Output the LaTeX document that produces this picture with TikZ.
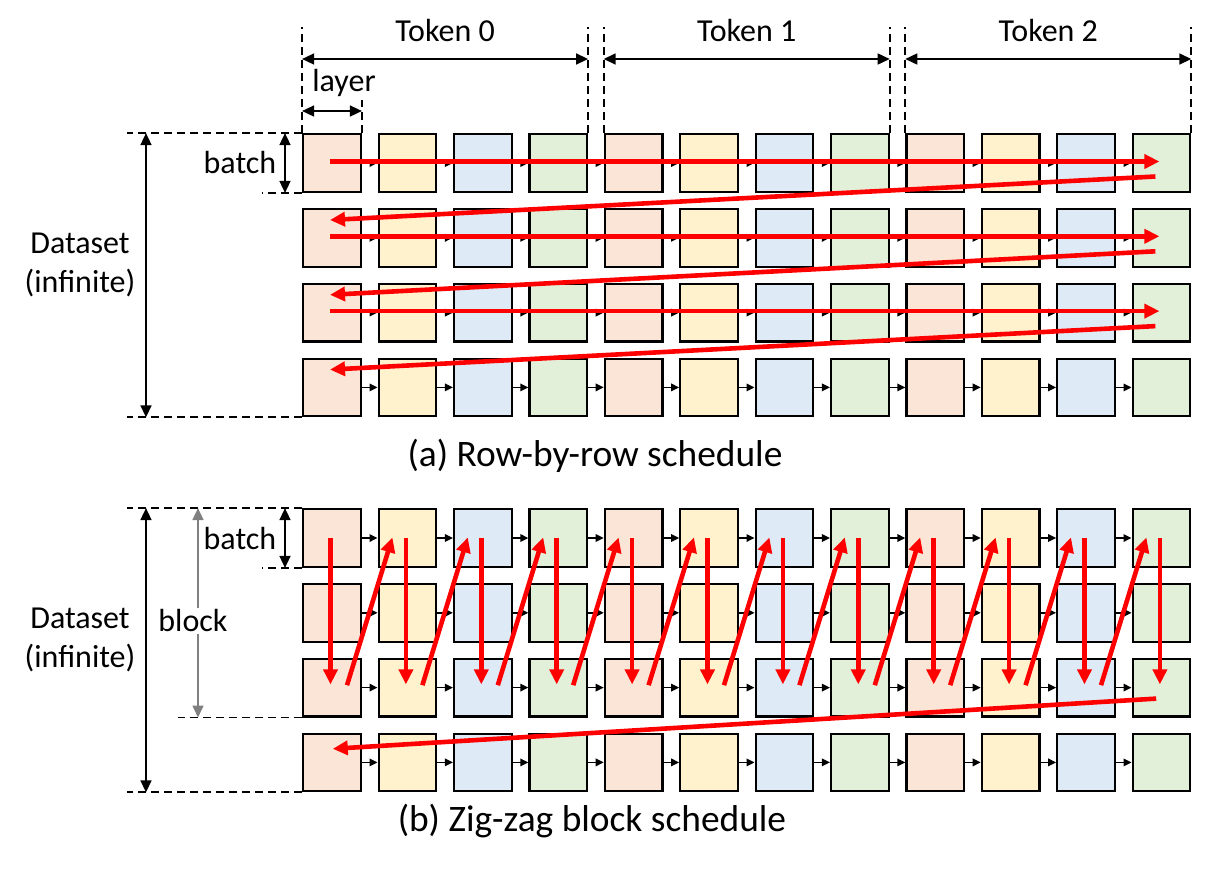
\documentclass[tikz,border=0pt]{standalone}
\usepackage{fontspec}
\setmainfont{Carlito}
\usetikzlibrary{arrows.meta}
\definecolor{lpink}{HTML}{FBE5D6}
\definecolor{lyellow}{HTML}{FFF2CC}
\definecolor{lblue}{HTML}{DEEBF7}
\definecolor{lgreen}{HTML}{E2F0D9}

\begin{document}
\begin{tikzpicture}[x=0.5pt,y=-0.5pt]
        \tikzset{
            cell/.style={draw=black,line width=1.1pt,minimum size=28.8pt,inner sep=0pt},
            flow/.style={-{Triangle[length=4pt,width=3.8pt]},line width=0.7pt},
            sched/.style={-{Triangle[length=7.5pt,width=7pt]},draw=red,line width=2.3pt},
            dim/.style={{Triangle[length=6pt,width=5.5pt]}-{Triangle[length=6pt,width=5.5pt]},line width=0.8pt},
            guide/.style={dash pattern=on 4pt off 2.5pt,line width=0.9pt},
            lbl/.style={font=\fontsize{16}{19.2}\selectfont,inner sep=0pt},
            caption/.style={font=\fontsize{18.7}{22.4}\selectfont,inner sep=0pt,anchor=base},
        }
        \useasboundingbox (0,0) rectangle (1207,869);

        \foreach \g/\yy in {a/163,b/538}
          \foreach \row in {1,...,4}
            \foreach \tok in {0,1,2}
              \foreach \lay/\fc in {1/lpink,2/lyellow,3/lblue,4/lgreen}{
                \pgfmathtruncatemacro\col{4*\tok+\lay}
                \node[cell,fill=\fc] (\g-\row-\col) at ({332+75.4*(\col-1)},{\yy+74.8*(\row-1)}) {};
              }
        \foreach \g in {a,b}
          \foreach \row in {1,...,4}
            \foreach \col in {1,...,11}{
              \pgfmathtruncatemacro\nxt{\col+1}
              \draw[flow] (\g-\row-\col.east) -- (\g-\row-\nxt.west);
            }

        % (a) row by row
        \foreach \row [evaluate=\row as \nx using int(\row+1)] in {1,2,3}{
          \draw[sched] ([shift={(-1pt,0.75pt)}]a-\row-1.center) -- ([shift={(-1pt,0.75pt)}]a-\row-12.center);
          \draw[sched] ([shift={(-3pt,-6.75pt)}]a-\row-12.center) -- ([shift={(-1pt,8.9pt)}]a-\nx-1.center);
        }

        % (b) zig-zag
        \foreach \col in {1,...,12}
          \draw[sched] ([xshift=-0.75pt]b-1-\col.center) -- ([shift={(-0.75pt,1.6pt)}]b-3-\col.center);
        \foreach \col [evaluate=\col as \nx using int(\col+1)] in {1,...,11}
          \draw[sched] ([shift={(7.5pt,1.2pt)}]b-3-\col.center) -- ([shift={(-7.5pt,0.3pt)}]b-1-\nx.center);
        \draw[sched] ([shift={(-2.6pt,-5.5pt)}]b-3-12.center) -- ([shift={(0.4pt,6.8pt)}]b-4-1.center);

        \coordinate (tokline) at (0,59);
        \coordinate (layline) at (0,111);
        \coordinate (batline) at (285,0);
        \coordinate (datline) at (146,0);
        \coordinate (blkline) at (198,0);

        \foreach \s/\e/\txt in {1/4/Token 0,5/8/Token 1,9/12/Token 2}{
          \draw[guide] (a-1-\s.north west) -- ++(0,-106);
          \draw[guide] (a-1-\e.north east) -- ++(0,-106);
          \draw[dim] (a-1-\s.north west |- tokline) -- node[lbl,above=8pt] {\txt} (a-1-\e.north east |- tokline);
        }
        \draw[guide] (a-1-1.north east) -- ++(0,-33);
        \draw[dim] (a-1-1.north west |- layline) -- node[lbl,above=6.8pt,xshift=6pt] {layer} (a-1-1.north east |- layline);

        \draw[guide] (a-1-1.north west) -- ++(-175,0);
        \draw[guide] (a-1-1.south west) -- ++(-40,0);
        \draw[guide] (a-4-1.south west) -- ++(-175,0);
        \draw[dim] (a-1-1.north west -| batline) -- node[lbl,left=4pt] {batch} (a-1-1.south west -| batline);
        \draw[dim] (a-1-1.north west -| datline) -- (a-4-1.south west -| datline);
        \node[lbl,align=center] (dsa) at (80,265) {Dataset\\(infinite)};
        \node[caption] (capa) at (595,466.5) {(a) Row-by-row schedule};

        \draw[guide] (b-1-1.north west) -- ++(-175,0);
        \draw[guide] (b-1-1.south west) -- ++(-40,0);
        \draw[guide] (b-3-1.south west) -- ++(-124,0);
        \draw[guide] (b-4-1.south west) -- ++(-175,0);
        \draw[dim] (b-1-1.north west -| batline) -- node[lbl,left=4pt] {batch} (b-1-1.south west -| batline);
        \draw[dim,gray] (b-1-1.north west -| blkline) -- node[lbl,fill=white,text=black,inner sep=1pt,xshift=-2.5pt,yshift=-4pt] {block} (b-3-1.south west -| blkline);
        \draw[dim] (b-1-1.north west -| datline) -- (b-4-1.south west -| datline);
        \node[lbl,align=center] (dsb) at (80,640) {Dataset\\(infinite)};
        \node[caption] (capb) at (592,831.7) {(b) Zig-zag block schedule};
\end{tikzpicture}
\end{document}
